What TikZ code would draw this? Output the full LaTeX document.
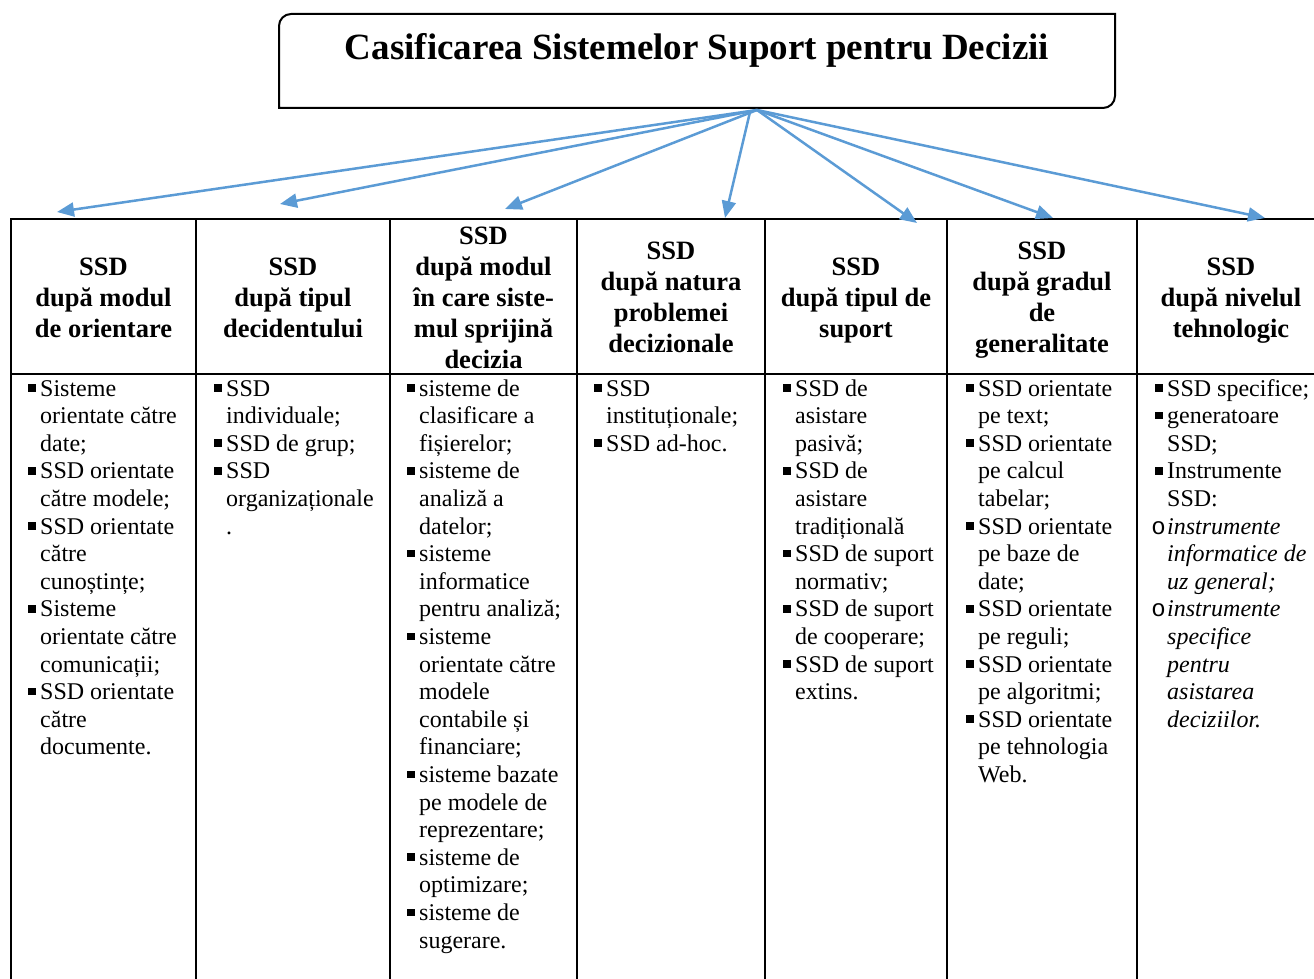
\documentclass[tikz,border=0pt]{standalone}
\usepackage{fontspec}
\setmainfont{Liberation Serif}
\newfontfamily\circfont{Liberation Mono}
\usetikzlibrary{arrows.meta}
\definecolor{arrowblue}{HTML}{5B9BD5}
\newcommand\B{\llap{\rule[4.3pt]{7.5pt}{7.5pt}\hspace{4.5pt}}}
\newcommand\Ci{\llap{{\circfont\upshape o}\hspace{1.5pt}}}
\newcommand\hdrcol[3]{%
  \foreach \txt [count=\i] in {#3} {\xdef\hn{\i}}%
  \foreach \txt [count=\i] in {#3} {\node[hdrtext] (#2-\i) at (#1,{306+31*(\i-(\hn+1)/2)}) {\txt};}%
}
\newcommand\bodycol[3]{%
  \foreach \txt [count=\i] in {#3} {\node[celltext] (#2-\i) at (#1,{396+27.6*(\i-1)}) {\txt};}%
}
\begin{document}
\begin{tikzpicture}[x=1pt,y=-1pt,
  hdrtext/.style={anchor=base,inner sep=0pt,font=\fontsize{26.5}{31}\selectfont\bfseries},
  celltext/.style={anchor=base west,inner sep=0pt,font=\fontsize{24}{27.6}\selectfont},
  titletext/.style={anchor=base,inner sep=0pt,font=\fontsize{37}{44}\selectfont\bfseries},
  grid/.style={line width=2pt,black},
  boxline/.style={line width=2pt,black},
  arr/.style={line width=2.5pt,arrowblue,-{Triangle[length=17pt,width=14pt]}}]
\useasboundingbox (0,0) rectangle (1314,979);
% title box
\draw[boxline] (279,108) -- (279,26) .. controls (279,19.4) and (284.4,14) .. (291,14)
  -- (1115,14) -- (1115,96) .. controls (1115,102.6) and (1109.6,108) .. (1103,108) -- cycle;
\node[titletext] (title) at (697,60) {Casificarea Sistemelor Suport pentru Decizii};
% table
\draw[grid] (11,219) -- (1314,219);
\draw[grid] (11,374) -- (1314,374);
\foreach \xx in {11,196,390,577,765,947,1137} {\draw[grid] (\xx,218) -- (\xx,979);}
% arrows
\coordinate (hub) at (757,110);
\coordinate (hubb) at (750,112);
\coordinate (t1) at (57,212);
\coordinate (t2) at (280,204);
\coordinate (t3) at (505,209);
\coordinate (t4) at (725,218);
\coordinate (t5) at (917,223);
\coordinate (t6) at (1053,218);
\coordinate (t7) at (1265,218);
\draw[arr] (hub) -- (t1);
\draw[arr] (hub) -- (t2);
\draw[arr] (hub) -- (t3);
\draw[arr] (hubb) -- (t4);
\draw[arr] (hub) -- (t5);
\draw[arr] (hub) -- (t6);
\draw[arr] (hub) -- (t7);
% headers
\hdrcol{103.5}{ha}{SSD,după modul,de orientare}
\hdrcol{293}{hb}{SSD,după tipul,decidentului}
\hdrcol{483.5}{hc}{SSD,după modul,în care siste-,mul sprijină,decizia}
\hdrcol{671}{hd}{SSD,după natura,problemei,decizionale}
\hdrcol{856}{he}{SSD,după tipul de,suport}
\hdrcol{1042}{hf}{SSD,după gradul,de,generalitate}
\hdrcol{1231}{hg}{SSD,după nivelul,tehnologic}
% bodies
\bodycol{40}{ba}{\B Sisteme,orientate către,date;,\B SSD orientate,către modele;,\B SSD orientate,către,cunoștințe;,\B Sisteme,orientate către,comunicații;,\B SSD orientate,către,documente.}
\bodycol{226}{bb}{\B SSD,individuale;,\B SSD de grup;,\B SSD,organizaționale,.}
\bodycol{419}{bc}{\B sisteme de,clasificare a,fișierelor;,\B sisteme de,analiză a,datelor;,\B sisteme,informatice,pentru analiză;,\B sisteme,orientate către,modele,contabile și,financiare;,\B sisteme bazate,pe modele de,reprezentare;,\B sisteme de,optimizare;,\B sisteme de,sugerare.}
\bodycol{606}{bd}{\B SSD,instituționale;,\B SSD ad-hoc.}
\bodycol{795}{be}{\B SSD de,asistare,pasivă;,\B SSD de,asistare,tradițională,\B SSD de suport,normativ;,\B SSD de suport,de cooperare;,\B SSD de suport,extins.}
\bodycol{978}{bf}{\B SSD orientate,pe text;,\B SSD orientate,pe calcul,tabelar;,\B SSD orientate,pe baze de,date;,\B SSD orientate,pe reguli;,\B SSD orientate,pe algoritmi;,\B SSD orientate,pe tehnologia,Web.}
\bodycol{1167}{bg}{\B SSD specifice;,\B generatoare,SSD;,\B Instrumente,SSD:,\Ci\textit{instrumente},\textit{informatice de},\textit{uz general;},\Ci\textit{instrumente},\textit{specifice},\textit{pentru},\textit{asistarea},\textit{deciziilor.}}
\end{tikzpicture}
\end{document}
